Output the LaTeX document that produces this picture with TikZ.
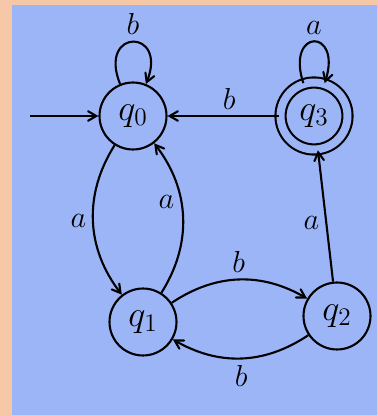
\documentclass[tikz,border=0pt]{standalone}
\usepackage{xcolor}
\usepackage{amsmath}
\usepackage{tikz}
\usetikzlibrary{arrows, positioning}

\begin{document}
\begin{tikzpicture}[x=0.02cm, y=0.02cm, font=\LARGE, line width=1.2pt, >=angle 60,
  dfastate/.style={circle, draw, minimum size=1.34cm, inner sep=0pt, font=\huge},
  finalstate/.style={dfastate, double=boardblue, double distance=0.16cm},
  trans/.style={->}]
  \definecolor{peachbg}{HTML}{F7C8A7}
  \definecolor{boardblue}{HTML}{9CB5F6}
  
  \fill[peachbg] (0,0) rectangle (378,416);
  \fill[boardblue] (12,1) rectangle (377,411);
  
  \node[dfastate] (q0) at (133,300) {$q_0$};
  \node[dfastate] (q1) at (143,94) {$q_1$};
  \node[dfastate] (q2) at (337,100) {$q_2$};
  \node[finalstate] (q3) at (314,300) {$q_3$};
  \coordinate (start) at (30,300);
  
  \draw[trans] (start) -- (q0);
  \draw[trans] (q0) to[out=112, in=68, looseness=6] node[above] {$b$} (q0);
  \draw[trans] (q3) to[out=108, in=72, looseness=7] node[above] {$a$} (q3);
  \draw[trans] (q3) -- node[above, pos=0.45] {$b$} (q0);
  \draw[trans] (q0) to[bend right=35] node[left] {$a$} (q1);
  \draw[trans] (q1) to[bend right=35] node[left, pos=0.6] {$a$} (q0);
  \draw[trans] (q1) to[bend left=32] node[above] {$b$} (q2);
  \draw[trans] (q2) to[bend left=32] node[below] {$b$} (q1);
  \draw[trans] (q2) -- node[left, pos=0.45] {$a$} (q3);
\end{tikzpicture}
\end{document}
